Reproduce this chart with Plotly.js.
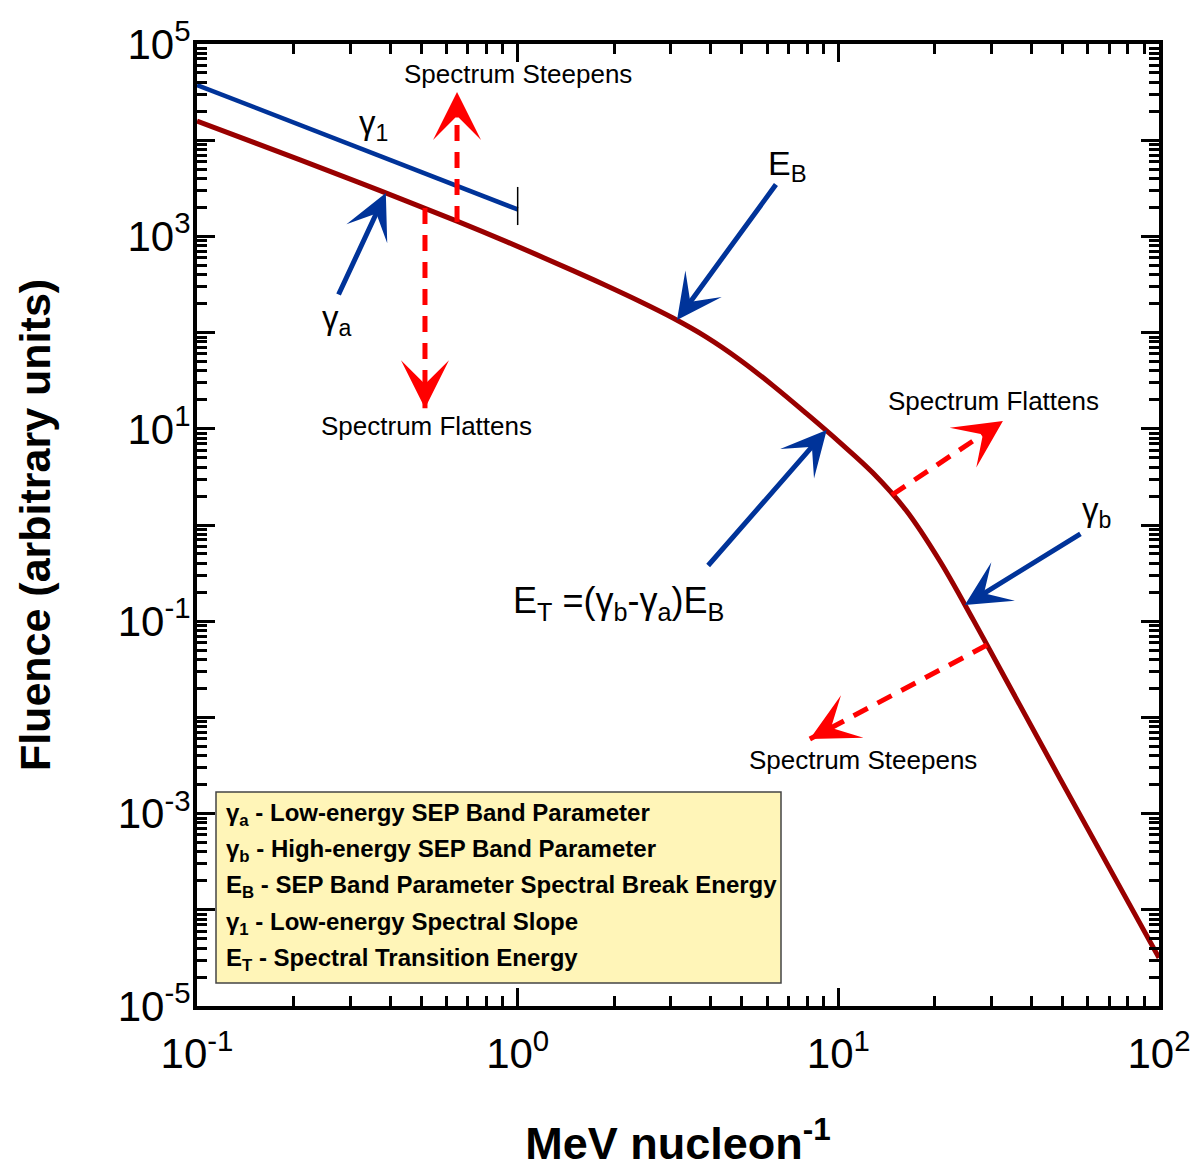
<!DOCTYPE html>
<html>
<head>
<meta charset="utf-8">
<script src="https://cdn.plot.ly/plotly-3.0.1.min.js"></script>
<style>
html, body { margin: 0; padding: 0; background: #ffffff; }
#chart { width: 1196px; height: 1171px; }
</style>
</head>
<body>
<div id="chart"></div>
<script>
// ---------------- data ----------------
// SEP band-function fluence spectrum (dark red curve)
const energy  = [0.1, 0.2096, 0.3721, 0.6468, 0.9263, 1.488, 1.886, 2.408, 3.050, 3.867, 4.935, 6.256, 7.928, 10.12, 12.83, 16.26, 20.75, 26.30, 33.33, 49.12, 100];
const fluence = [15840, 6242, 2986, 1442, 876.4, 441.1, 308.8, 210.6, 141.8, 90.4, 52.03, 28.12, 14.53, 7.187, 3.471, 1.422, 0.4195, 0.1044, 0.02460, 0.002311, 0.00003170];

// Low-energy spectral slope line (gamma_1, blue)
const slopeEnergy  = [0.1, 1];
const slopeFluence = [37500, 1905];

// short black end marker of the slope line
const endMarkEnergy  = [1, 1];
const endMarkFluence = [3266, 1312];

// axis ticks
const xTickVals = [0.1, 1, 10, 100];
const xTickText = ['10<sup>-1</sup>', '10<sup>0</sup>', '10<sup>1</sup>', '10<sup>2</sup>'];
const yTickVals = [1e-5, 1e-4, 1e-3, 1e-2, 1e-1, 1, 10, 100, 1e3, 1e4, 1e5];
const yTickText = ['10<sup>-5</sup>', ' ', '10<sup>-3</sup>', ' ', '10<sup>-1</sup>', ' ', '10<sup>1</sup>', ' ', '10<sup>3</sup>', ' ', '10<sup>5</sup>'];

// red dashed "spectrum change" arrows (tail on curve -> tip), with label
const redTailE = [0.647, 0.514, 14.69, 29.08];
const redTailF = [1413, 1972, 2.05, 0.05655];
const redTipE  = [0.647, 0.514, 32.6, 8.15];
const redTipF  = [31700, 16.4, 12.05, 0.00596];
const redLabels = ['Spectrum Steepens', 'Spectrum Flattens', 'Spectrum Flattens', 'Spectrum Steepens'];
const redLabelE = [1.0, 0.518, 30.5, 11.94];
const redLabelF = [48750, 10.7, 19.45, 0.00361];

// blue pointer arrows (tail -> tip on curve), with label
const blueTailE = [0.275, 6.44, 3.89, 57.5];
const blueTailF = [240, 3589, 0.366, 0.826];
const blueTipE  = [0.388, 3.14, 9.20, 24.8];
const blueTipF  = [2825, 135, 9.73, 0.147];
const blueLabels = ['γ<sub>a</sub>', 'E<sub>B</sub>', 'E<sub>T</sub> =(γ<sub>b</sub>-γ<sub>a</sub>)E<sub>B</sub>', 'γ<sub>b</sub>'];
const blueLabelSize = [33, 34, 36, 33];
const blueLabelE = [0.274, 6.92, 2.056, 64.0];
const blueLabelF = [135, 5521, 0.1545, 1.365];

// gamma_1 label
const slopeLabel = 'γ<sub>1</sub>';
const slopeLabelE = 0.354;
const slopeLabelF = 14390;

// legend box text
const keyLines = [
  'γ<sub>a</sub> - Low-energy SEP Band Parameter',
  'γ<sub>b</sub> - High-energy SEP Band Parameter',
  'E<sub>B</sub> - SEP Band Parameter Spectral Break Energy',
  'γ<sub>1</sub> - Low-energy Spectral Slope',
  'E<sub>T</sub> - Spectral Transition Energy'
];

// ---------------- styling ----------------
const FONT = '"Liberation Sans", Arial, Helvetica, sans-serif';
const DARKRED = '#990000';
const BLUE = '#003399';
const RED = '#ff0000';

const W = 1196, H = 1171;
const M = { l: 197, r: 37, t: 44, b: 165 };
const pxPerDecX = (W - M.l - M.r) / 3;
const pxPerDecY = (H - M.t - M.b) / 10;
const L = Math.log10;

function minorVals(lo, hi) {
  const v = [];
  for (let k = lo; k < hi; k++) for (let d = 2; d <= 9; d++) v.push(d * Math.pow(10, k));
  return v;
}

const traces = [
  {
    x: energy, y: fluence, type: 'scatter', mode: 'lines',
    line: { color: DARKRED, width: 5, shape: 'spline', smoothing: 1 },
    hoverinfo: 'skip'
  },
  {
    x: slopeEnergy, y: slopeFluence, type: 'scatter', mode: 'lines',
    line: { color: BLUE, width: 4.5 }, hoverinfo: 'skip'
  },
  {
    x: endMarkEnergy, y: endMarkFluence, type: 'scatter', mode: 'lines',
    line: { color: '#000000', width: 1.5 }, hoverinfo: 'skip'
  }
];

for (let i = 0; i < redTailE.length; i++) {
  traces.push({
    x: [redTailE[i], redTipE[i]], y: [redTailF[i], redTipF[i]],
    type: 'scatter', mode: 'lines',
    line: { color: RED, width: 5, dash: '16px,11px' }, hoverinfo: 'skip'
  });
}

const annotations = [];

// red arrowheads
for (let i = 0; i < redTailE.length; i++) {
  const dx = (L(redTailE[i]) - L(redTipE[i])) * pxPerDecX;
  const dy = -(L(redTailF[i]) - L(redTipF[i])) * pxPerDecY;
  const len = Math.hypot(dx, dy);
  annotations.push({
    x: L(redTipE[i]), y: L(redTipF[i]), xref: 'x', yref: 'y',
    ax: dx / len * 18, ay: dy / len * 18,
    text: '', showarrow: true, arrowhead: 3, arrowsize: 1.6, arrowwidth: 5,
    arrowcolor: RED, standoff: 0, startstandoff: 0
  });
  annotations.push({
    x: L(redLabelE[i]), y: L(redLabelF[i]), xref: 'x', yref: 'y',
    text: redLabels[i], showarrow: false,
    font: { family: FONT, size: 26, color: '#000000' }
  });
}

// blue arrows
for (let i = 0; i < blueTailE.length; i++) {
  annotations.push({
    x: L(blueTipE[i]), y: L(blueTipF[i]), xref: 'x', yref: 'y',
    ax: L(blueTailE[i]), ay: L(blueTailF[i]), axref: 'x', ayref: 'y',
    text: '', showarrow: true, arrowhead: 3, arrowsize: 1.5, arrowwidth: 5,
    arrowcolor: BLUE, standoff: 0, startstandoff: 0
  });
  annotations.push({
    x: L(blueLabelE[i]), y: L(blueLabelF[i]), xref: 'x', yref: 'y',
    text: blueLabels[i], showarrow: false,
    font: { family: FONT, size: blueLabelSize[i], color: '#000000' }
  });
}

annotations.push({
  x: L(slopeLabelE), y: L(slopeLabelF), xref: 'x', yref: 'y',
  text: slopeLabel, showarrow: false,
  font: { family: FONT, size: 33, color: '#000000' }
});

// legend box lines
const plotW = W - M.l - M.r, plotH = H - M.t - M.b;
const keyTopPx = 814, keyStepPx = 36.4, keyLeftPx = 224;
keyLines.forEach((t, i) => {
  annotations.push({
    xref: 'paper', yref: 'paper',
    x: (keyLeftPx - M.l) / plotW,
    y: (H - M.b - (keyTopPx + i * keyStepPx)) / plotH,
    xanchor: 'left', yanchor: 'middle', align: 'left',
    text: t, showarrow: false,
    font: { family: FONT, size: 24, color: '#000000', weight: 'bold' }
  });
});

const shapes = [{
  type: 'rect', xref: 'paper', yref: 'paper',
  x0: (216 - M.l) / plotW, x1: (781 - M.l) / plotW,
  y0: (H - M.b - 983) / plotH, y1: (H - M.b - 792) / plotH,
  fillcolor: '#fff5b8', line: { color: '#444444', width: 1.5 }, layer: 'below'
}];

const axisCommon = {
  type: 'log', tickmode: 'array',
  ticks: 'inside', ticklen: 18, tickwidth: 3, tickcolor: '#000000',
  showline: true, linewidth: 4, linecolor: '#000000', mirror: 'ticks',
  showgrid: false, zeroline: false,
  tickfont: { family: FONT, size: 42, color: '#000000' }
};

const layout = {
  width: W, height: H,
  margin: M,
  paper_bgcolor: '#ffffff', plot_bgcolor: '#ffffff',
  showlegend: false,
  xaxis: Object.assign({}, axisCommon, {
    range: [-1, 2], tickvals: xTickVals, ticktext: xTickText,
    ticklabelstandoff: 8,
    minor: { tickmode: 'array', tickvals: minorVals(-1, 2), ticks: 'inside', ticklen: 10, tickwidth: 3, tickcolor: '#000000', showgrid: false },
    title: { text: 'MeV nucleon<sup>-1</sup>', standoff: 52,
             font: { family: FONT, size: 45, color: '#000000', weight: 'bold' } }
  }),
  yaxis: Object.assign({}, axisCommon, {
    range: [-5, 5], tickvals: yTickVals, ticktext: yTickText,
    ticklabelstandoff: -6,
    minor: { tickmode: 'array', tickvals: minorVals(-5, 5), ticks: 'inside', ticklen: 10, tickwidth: 3, tickcolor: '#000000', showgrid: false },
    title: { text: 'Fluence (arbitrary units)', standoff: 55,
             font: { family: FONT, size: 43, color: '#000000', weight: 'bold' } }
  }),
  annotations: annotations,
  shapes: shapes
};

Plotly.newPlot('chart', traces, layout, { displayModeBar: false, staticPlot: true });
</script>
</body>
</html>
